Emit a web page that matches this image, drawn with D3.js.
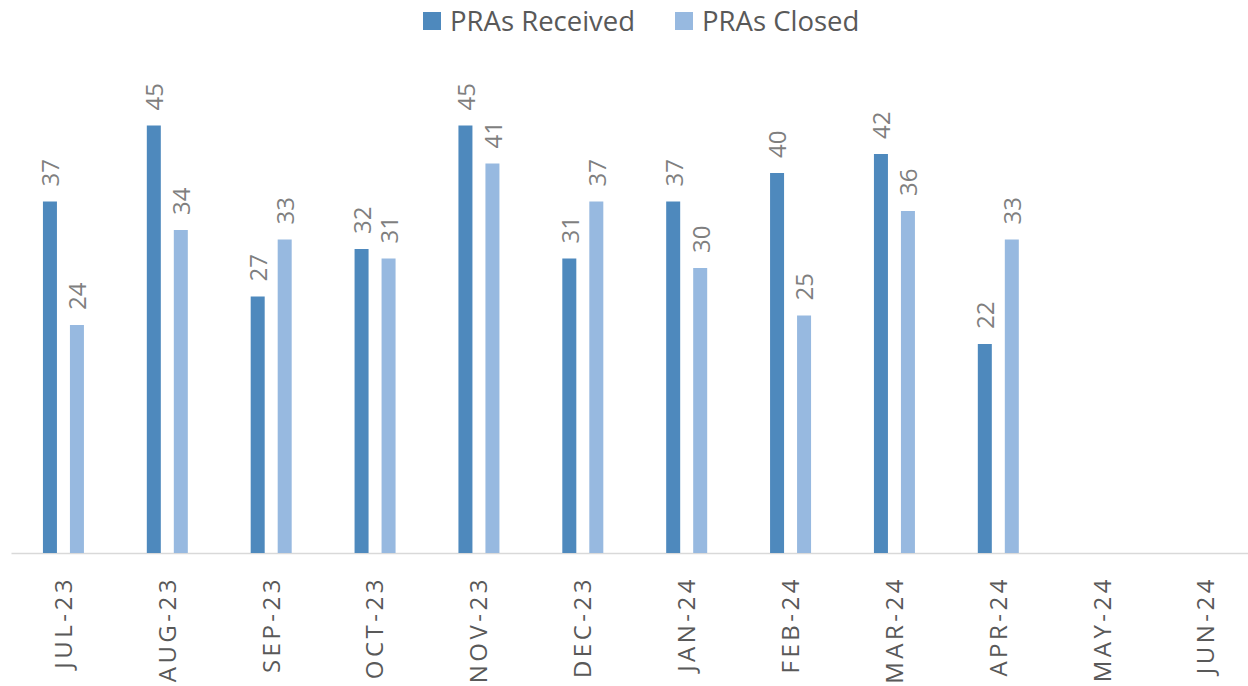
<!DOCTYPE html>
<html>
<head>
<meta charset="utf-8">
<script src="https://cdn.jsdelivr.net/npm/d3@7"></script>
<style>
  body { margin: 0; background: #fff; }
  svg text { font-family: "Open Sans", "Noto Sans", sans-serif; }
</style>
</head>
<body>
<div id="chart"></div>
<script>
// data
var months = ["JUL-23", "AUG-23", "SEP-23", "OCT-23", "NOV-23", "DEC-23",
              "JAN-24", "FEB-24", "MAR-24", "APR-24", "MAY-24", "JUN-24"];
var prasReceived = [37, 45, 27, 32, 45, 31, 37, 40, 42, 22, null, null];
var prasClosed   = [24, 34, 33, 31, 41, 37, 30, 25, 36, 33, null, null];
var seriesNames = ["PRAs Received", "PRAs Closed"];
var colors = ["#4e89bd", "#97b9e0"];

var W = 1248, H = 686;
var plotL = 11.5, plotR = 1258, base = 553, plotT = 78;

var svg = d3.select("#chart").append("svg")
  .attr("width", W).attr("height", H);

var x = d3.scaleBand().domain(months).range([plotL, plotR]).padding(0);
var y = d3.scaleLinear().domain([0, 50]).range([base, plotT]);

// axis line
svg.append("line")
  .attr("x1", plotL).attr("x2", W)
  .attr("y1", base + 0.5).attr("y2", base + 0.5)
  .attr("stroke", "#d9d9d9").attr("stroke-width", 1.5);

var bw = 14;
[prasReceived, prasClosed].forEach(function(vals, s) {
  var off = s === 0 ? -20.5 : 6.5;
  var g = svg.append("g");
  var data = months.map(function(m, i) { return { m: m, v: vals[i] }; })
    .filter(function(d) { return d.v != null; });

  g.selectAll("rect").data(data).enter().append("rect")
    .attr("x", function(d) { return x(d.m) + x.bandwidth() / 2 + off; })
    .attr("width", bw)
    .attr("y", function(d) { return y(d.v); })
    .attr("height", function(d) { return base - y(d.v); })
    .attr("fill", colors[s]);

  g.selectAll("text").data(data).enter().append("text")
    .attr("transform", function(d) {
      var cx = x(d.m) + x.bandwidth() / 2 + off + bw / 2 + 1;
      return "translate(" + cx + "," + (y(d.v) - 15) + ") rotate(-90)";
    })
    .attr("dy", "0.35em")
    .attr("text-anchor", "start")
    .attr("font-size", 24)
    .attr("fill", "#7f7f7f")
    .text(function(d) { return d.v; });
});

// x labels
svg.selectAll(".xl").data(months).enter().append("text")
  .attr("class", "xl")
  .attr("transform", function(d) {
    return "translate(" + (x(d) + x.bandwidth() / 2) + "," + 576 + ") rotate(-90)";
  })
  .attr("dy", "0.35em")
  .attr("text-anchor", "end")
  .attr("font-size", 24)
  .attr("letter-spacing", "3.5px")
  .attr("fill", "#595959")
  .text(function(d) { return d; });

// legend
var legX = [423, 675];
seriesNames.forEach(function(n, i) {
  svg.append("rect").attr("x", legX[i]).attr("y", 12)
    .attr("width", 18).attr("height", 18).attr("fill", colors[i]);
  svg.append("text").attr("x", legX[i] + 27).attr("y", 21)
    .attr("dy", "0.35em")
    .attr("font-size", 27.5)
    .attr("fill", "#595959")
    .text(n);
});
</script>
</body>
</html>
